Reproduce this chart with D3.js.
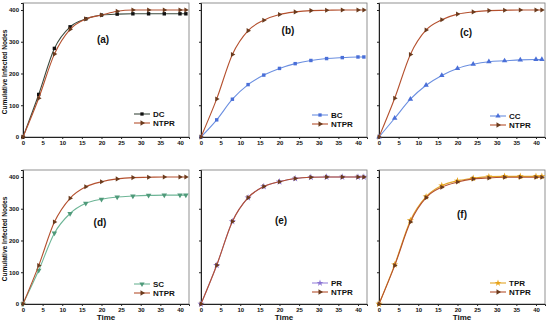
<!DOCTYPE html>
<html><head><meta charset="utf-8">
<script src="https://cdn.jsdelivr.net/npm/d3@7"></script>
<style>body{margin:0;background:#fff}svg{display:block;font-family:"Liberation Sans",Arial,sans-serif;font-weight:bold}</style>
</head><body>
<svg id="c" width="550" height="326"></svg>
<script>
// ---- data ----
const times = [0, 4, 8, 12, 16, 20, 24, 28, 32, 36, 40, 41.5];
const xTicks = [0, 5, 10, 15, 20, 25, 30, 35, 40];
const yTicks = [0, 100, 200, 300, 400];
const panelLabels = ["(a)", "(b)", "(c)", "(d)", "(e)", "(f)"];
const otherNames = ["DC", "BC", "CC", "SC", "PR", "TPR"];
const dcValues  = [0, 134, 279, 347, 372, 384, 387, 388, 388, 388, 388, 388];
const bcValues  = [0, 54, 119, 165, 195, 216, 231, 241, 247, 250, 252, 252];
const ccValues  = [0, 59, 119, 163, 194, 216, 229, 237, 240, 243, 244, 244];
const scValues  = [0, 106, 223, 285, 317, 330, 337, 340, 342, 343, 343, 343];
const prValues  = [0, 122, 260, 335, 370, 385, 395, 399, 400, 400, 400, 400];
const tprValues = [0, 124, 263, 338, 373, 388, 396, 401, 402, 402, 402, 402];
const ntprA = [0, 122, 261, 339, 372, 384, 396, 400, 400, 400, 400, 400];
const ntprB = [0, 120, 260, 335, 368, 386, 394, 398, 399, 400, 400, 400];
const ntprC = [0, 122, 260, 337, 369, 387, 394, 398, 399, 400, 400, 400];
const ntprD = [0, 121, 258, 333, 369, 385, 394, 398, 399, 400, 400, 400];
const ntprE = [0, 122, 260, 335, 370, 385, 395, 399, 400, 400, 400, 400];
const ntprF = [0, 121, 258, 335, 368, 384, 394, 397, 399, 399, 399, 399];

// ---- styles ----
const otherValues = [dcValues, bcValues, ccValues, scValues, prValues, tprValues];
const ntprValues = [ntprA, ntprB, ntprC, ntprD, ntprE, ntprF];
const otherLine = ["#3b4a3e", "#6b8fe0", "#6b8fe0", "#6db596", "#9c88dc", "#e2a62a"];
const otherMark = ["#111111", "#4a6fd8", "#4a6fd8", "#4f9a7a", "#8a74d2", "#e8a317"];
const otherSym = ["square", "square", "up", "down", "star", "star"];
const ntprLine = "#b4502e", ntprMark = "#6a3a1c";
const colX = [23, 201, 379], rowY = [3, 170];
const pw = 166, ph = 134;
const labelPos = [[103, 43], [288, 34], [466, 36], [100, 226], [281, 224], [462, 218]];
const legendY = [114, 115, 116, 284, 283, 283];

const svg = d3.select("#c");
function sym(kind, x, y, g, color, size) {
  let type = d3.symbolTriangle, rot = 0, s = size;
  if (kind === "square") { type = d3.symbolSquare; s = size * 0.9; }
  else if (kind === "up") { rot = 0; }
  else if (kind === "down") { rot = 180; }
  else if (kind === "right") { rot = 90; }
  else if (kind === "star") { type = d3.symbolStar; s = size * 1.2; }
  g.append("path").attr("d", d3.symbol().type(type).size(s)())
    .attr("transform", `translate(${x},${y}) rotate(${rot})`).attr("fill", color);
}

for (let i = 0; i < 6; i++) {
  const col = i % 3, row = Math.floor(i / 3);
  const x0 = colX[col], y0 = rowY[row];
  const x = d3.scaleLinear().domain([0, 42.3]).range([x0, x0 + pw]);
  const y = d3.scaleLinear().domain([0, 422]).range([y0 + ph, y0]);
  const g = svg.append("g");
  g.append("rect").attr("x", x0).attr("y", y0).attr("width", pw).attr("height", ph)
    .attr("fill", "none").attr("stroke", "#777").attr("stroke-width", 0.8);
  const xa = g.append("g").attr("transform", `translate(0,${y0 + ph})`)
    .call(d3.axisBottom(x).tickValues(xTicks).tickSize(2).tickPadding(2));
  const ya = g.append("g").attr("transform", `translate(${x0},0)`)
    .call(d3.axisLeft(y).tickValues(yTicks).tickSize(2).tickPadding(2)
      .tickFormat(col === 0 ? d3.format("d") : () => ""));
  [xa, ya].forEach(a => {
    a.selectAll("text").attr("font-size", 6).attr("font-weight", "bold").attr("fill", "#111")
      .attr("font-family", "'Liberation Sans',Arial,sans-serif");
    a.selectAll("line").attr("stroke", "#222");
    a.select(".domain").attr("stroke", "#222").attr("stroke-width", 1);
  });
  const line = d3.line().x((d, j) => x(times[j])).y(d => y(d)).curve(d3.curveMonotoneX);
  // other series
  g.append("path").datum(otherValues[i]).attr("d", line).attr("fill", "none")
    .attr("stroke", otherLine[i]).attr("stroke-width", 1.1);
  otherValues[i].forEach((v, j) => sym(otherSym[i], x(times[j]), y(v), g, otherMark[i], 13));
  // NTPR
  g.append("path").datum(ntprValues[i]).attr("d", line).attr("fill", "none")
    .attr("stroke", ntprLine).attr("stroke-width", 1.1);
  ntprValues[i].forEach((v, j) => sym("right", x(times[j]), y(v), g, ntprMark, 11));
  // panel label
  g.append("text").attr("x", labelPos[i][0]).attr("y", labelPos[i][1]).attr("text-anchor", "middle")
    .attr("font-size", 10).attr("fill", "#111").text(panelLabels[i]);
  // legend
  const lx = x0 + pw - 55, ly = legendY[i];
  const items = [[otherNames[i], otherLine[i], otherMark[i], otherSym[i]], ["NTPR", ntprLine, ntprMark, "right"]];
  items.forEach((it, k) => {
    const yy = ly + k * 9;
    g.append("line").attr("x1", lx).attr("x2", lx + 16).attr("y1", yy).attr("y2", yy)
      .attr("stroke", it[1]).attr("stroke-width", 1.1);
    sym(it[3], lx + 8, yy, g, it[2], 12);
    g.append("text").attr("x", lx + 19).attr("y", yy + 3).attr("font-size", 8).attr("fill", "#111").text(it[0]);
  });
  if (col === 0) {
    g.append("text").attr("transform", `translate(7,${y0 + ph / 2 + 2}) rotate(-90)`)
      .attr("text-anchor", "middle").attr("font-size", 6.6).attr("fill", "#111").text("Cumulative Infected Nodes");
  }
  if (row === 1) {
    g.append("text").attr("x", x0 + pw / 2).attr("y", 320).attr("text-anchor", "middle")
      .attr("font-size", 8).attr("fill", "#111").text("Time");
  }
}
</script>
</body></html>
